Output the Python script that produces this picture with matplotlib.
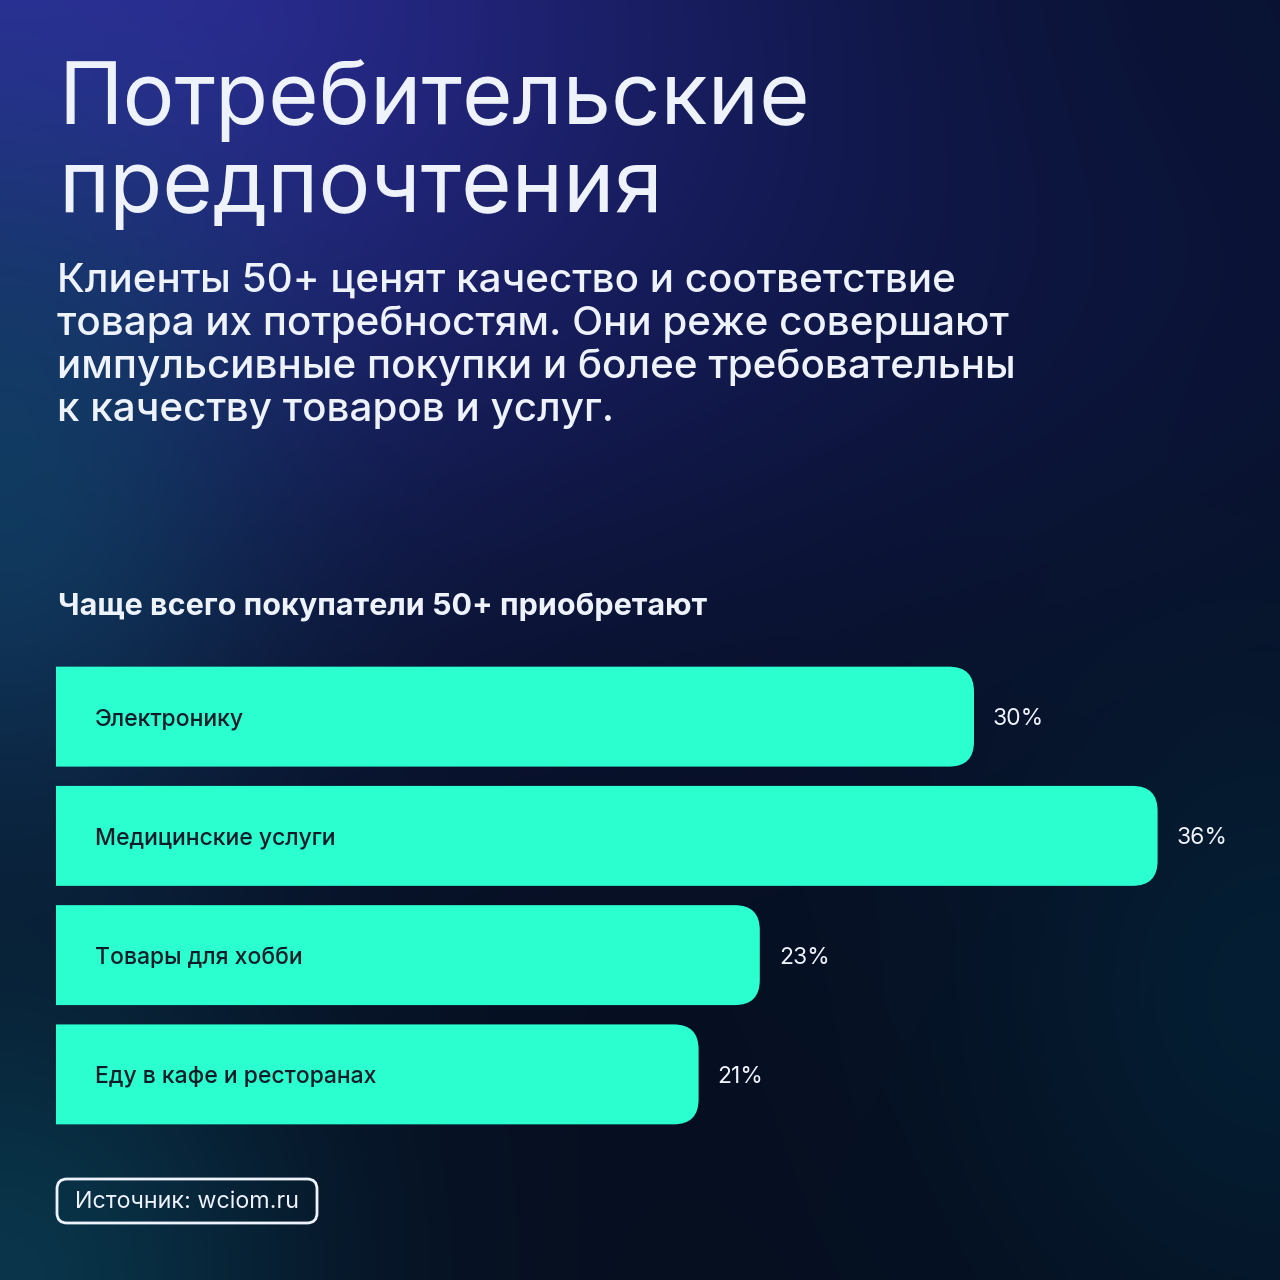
import numpy as np
import matplotlib.pyplot as plt
from matplotlib.patches import FancyBboxPatch, PathPatch
from matplotlib.path import Path

plt.rcParams['font.family'] = ['Inter', 'DejaVu Sans']

# data
categories = ['Электронику', 'Медицинские услуги', 'Товары для хобби', 'Еду в кафе и ресторанах']
values = [30, 36, 23, 21]

title_lines = ['Потребительские', 'предпочтения']
subtitle_lines = ['Клиенты 50+ ценят качество и соответствие',
                  'товара их потребностям. Они реже совершают',
                  'импульсивные покупки и более требовательны',
                  'к качеству товаров и услуг.']
chart_heading = 'Чаще всего покупатели 50+ приобретают'
source_text = 'Источник: wciom.ru'

BAR = '#2cffcf'
TXT = '#eef2fb'
DARK = '#0c1d2a'

# background gradient
n = 320
yy, xx = np.mgrid[0:n, 0:n] / (n - 1) * 1280
img = np.zeros((n, n, 3))
img[:] = np.array([6, 15, 32]) / 255


def blob(cx, cy, sx, sy, color, strength):
    global img
    w = np.exp(-(((xx - cx) / sx) ** 2 + ((yy - cy) / sy) ** 2)) * strength
    img = img * (1 - w[..., None]) + np.array(color)[None, None, :] / 255 * w[..., None]


blob(700, 100, 900, 520, (16, 24, 78), 0.85)
blob(0, 0, 650, 480, (48, 46, 160), 0.95)
blob(0, 470, 260, 380, (16, 66, 100), 0.8)
blob(0, 1280, 300, 320, (10, 62, 84), 0.8)
blob(1280, 1000, 300, 360, (4, 36, 58), 0.7)
blob(1280, 0, 400, 300, (8, 18, 46), 0.6)


def right_rounded_bar(y, width, height, rx, ry):
    y0, y1 = y - height / 2, y + height / 2
    verts = [(0, y0), (width - rx, y0), (width, y0), (width, y0 + ry),
             (width, y1 - ry), (width, y1), (width - rx, y1), (0, y1), (0, y0)]
    codes = [Path.MOVETO, Path.LINETO, Path.CURVE3, Path.CURVE3,
             Path.LINETO, Path.CURVE3, Path.CURVE3, Path.LINETO, Path.CLOSEPOLY]
    return Path(verts, codes)


fig = plt.figure(figsize=(12.8, 12.8), dpi=100)
bg = fig.add_axes([0, 0, 1, 1])
bg.imshow(img, extent=(0, 1280, 1280, 0), aspect='auto', interpolation='bicubic')
bg.set_xlim(0, 1280)
bg.set_ylim(1280, 0)
bg.axis('off')

# title and subtitle
for i, line in enumerate(title_lines):
    bg.text(58, 124 + i * 88, line, color=TXT, fontsize=62.5, va='baseline', ha='left')
for i, line in enumerate(subtitle_lines):
    bg.text(57, 292 + i * 43, line, color=TXT, fontsize=29.1, fontweight='medium',
            va='baseline', ha='left')

bg.text(58, 615, chart_heading, color=TXT, fontsize=22, fontweight='bold', va='baseline', ha='left')

# source box
bg.add_patch(FancyBboxPatch((57, 1179), 260, 44, boxstyle='round,pad=0,rounding_size=10',
                            facecolor='none', edgecolor=TXT, linewidth=2))
bg.text(75, 1202, source_text, color=TXT, fontsize=16.8, va='center', ha='left')

# bars
ax = fig.add_axes([56 / 1280, (1280 - 1134) / 1280, 1224 / 1280, 477 / 1280])
ax.patch.set_alpha(0)
ax.set_xlim(0, 40)
ax.set_ylim(3.5, -0.5)
ax.axis('off')

h = 0.838
rx = 25 / (1224 / 40)
ry = 25 / (477 / 4)
for i, (cat, v) in enumerate(zip(categories, values)):
    ax.add_patch(PathPatch(right_rounded_bar(i, v, h, rx, ry), facecolor=BAR, edgecolor='none'))
    ax.text(1.27, i + 0.02, cat, color=DARK, fontsize=16.5, fontweight='medium',
            va='center', ha='left')
    ax.text(v + 0.62, i + 0.02, f'{v}%', color=TXT, fontsize=16.5, va='center', ha='left')

fig.savefig('out.png', dpi=100)
